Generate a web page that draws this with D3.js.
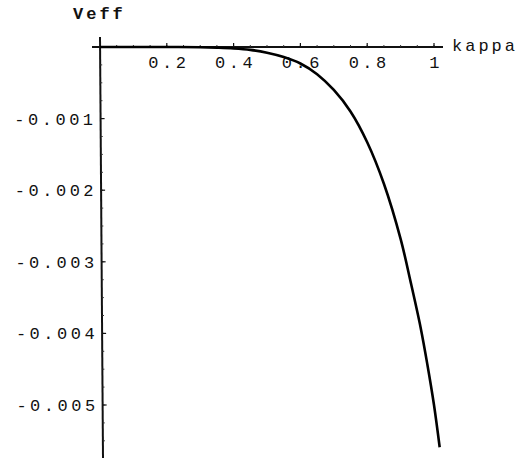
<!DOCTYPE html>
<html><head><meta charset="utf-8">
<script src="https://cdn.jsdelivr.net/npm/d3@7"></script>
<style>body{margin:0;background:#fff}svg{display:block}text{font-family:"Liberation Mono","Courier New",monospace;fill:#111}</style>
</head><body>
<svg id="c" width="523" height="463"></svg>
<script>
const kappa = [0, 0.1, 0.2, 0.3, 0.35, 0.4, 0.45, 0.5, 0.55, 0.6, 0.65, 0.7, 0.75, 0.8, 0.85, 0.9, 0.93, 0.96, 0.98, 1.0, 1.017];
const veff  = [0, 0, 0, -0.000004, -0.00001, -0.00002, -0.00004, -0.00008, -0.00014, -0.00023, -0.00038, -0.00060, -0.00090, -0.00133, -0.00191, -0.00268, -0.00328, -0.00392, -0.00443, -0.00500, -0.00559];
const xTicks = [0.2, 0.4, 0.6, 0.8, 1];
const xTickLabels = ["0.2", "0.4", "0.6", "0.8", "1"];
const yTicks = [-0.001, -0.002, -0.003, -0.004, -0.005];
const yTickLabels = ["-0.001", "-0.002", "-0.003", "-0.004", "-0.005"];

const svg = d3.select("#c");
const x = d3.scaleLinear().domain([0, 1]).range([100, 434]);
const y = d3.scaleLinear().domain([0, -0.005]).range([47, 405]);

// axes lines
svg.append("line").attr("x1", 92).attr("x2", 443).attr("y1", y(0)).attr("y2", y(0)).attr("stroke", "#111").attr("stroke-width", 2);
svg.append("line").attr("x1", x(0)).attr("x2", x(0)+3).attr("y1", 37).attr("y2", 458).attr("stroke", "#111").attr("stroke-width", 2);

// x ticks
const xMinor = d3.range(0.05, 1.0001, 0.05);
svg.selectAll(".xm").data(xMinor).join("line").attr("x1", d => x(d)).attr("x2", d => x(d))
  .attr("y1", y(0)).attr("y2", y(0) - 2).attr("stroke", "#333").attr("stroke-width", 1);
svg.selectAll(".xM").data(xTicks).join("line").attr("x1", d => x(d)).attr("x2", d => x(d))
  .attr("y1", y(0)).attr("y2", y(0) - 4).attr("stroke", "#111").attr("stroke-width", 1.2);
svg.selectAll(".xl").data(xTicks).join("text").attr("x", d => x(d) + 2).attr("y", 68)
  .attr("text-anchor", "middle").attr("font-size", 17).attr("letter-spacing", 3.5)
  .text((d, i) => xTickLabels[i]);

// y ticks
const yMinor = d3.range(-0.00025, -0.0057, -0.00025);
const slant = v => x(0) + 3 * (y(v) - 37) / (458 - 37);
svg.selectAll(".ym").data(yMinor).join("line").attr("x1", d => slant(d)).attr("x2", d => slant(d) + 2)
  .attr("y1", d => y(d)).attr("y2", d => y(d)).attr("stroke", "#333").attr("stroke-width", 1);
svg.selectAll(".yM").data(yTicks).join("line").attr("x1", d => slant(d)).attr("x2", d => slant(d) + 4)
  .attr("y1", d => y(d)).attr("y2", d => y(d)).attr("stroke", "#111").attr("stroke-width", 1.2);
svg.selectAll(".yl").data(yTicks).join("text").attr("x", d => slant(d) - 4).attr("y", d => y(d) + 6)
  .attr("text-anchor", "end").attr("font-size", 17).attr("letter-spacing", 3.5)
  .text((d, i) => yTickLabels[i]);

// axis labels
svg.append("text").attr("x", 73).attr("y", 19).attr("font-size", 17).attr("font-weight", "bold").attr("letter-spacing", 3).text("Veff");
svg.append("text").attr("x", 452).attr("y", 51).attr("font-size", 17).attr("letter-spacing", 3).text("kappa");

// curve
const line = d3.line().x((d, i) => x(kappa[i])).y(d => y(d)).curve(d3.curveCatmullRom);
svg.append("path").attr("d", line(veff)).attr("fill", "none").attr("stroke", "#000").attr("stroke-width", 2.6);
</script>
</body></html>
